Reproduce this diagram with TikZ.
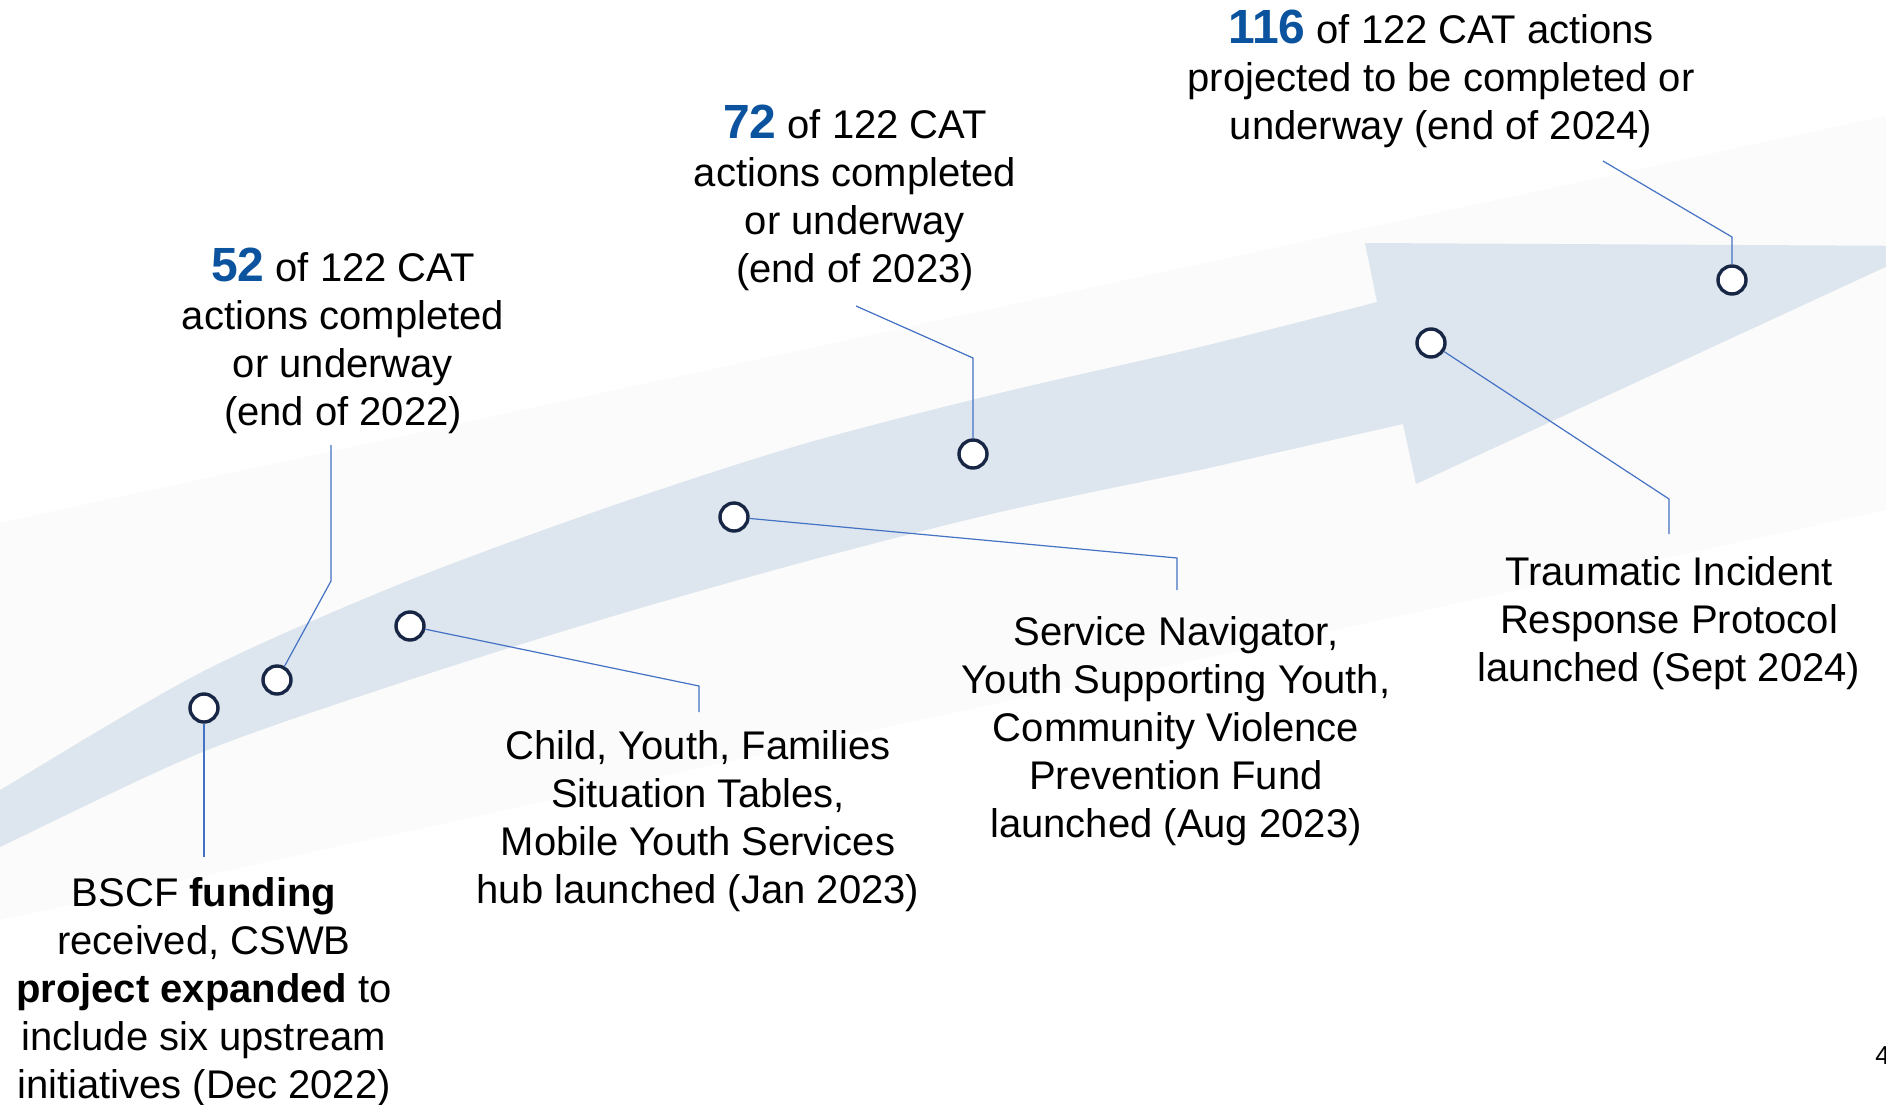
\documentclass[tikz,border=0pt]{standalone}
\usepackage{fontspec}
\setmainfont{Liberation Sans}

\definecolor{bandblue}{RGB}{221,229,238}
\definecolor{bandgrey}{RGB}{251,251,251}
\definecolor{leadblue}{RGB}{68,114,196}
\definecolor{ringnavy}{RGB}{24,38,70}
\definecolor{numblue}{RGB}{11,83,158}
\newcommand{\bignum}[1]{{\fontsize{24}{24}\selectfont\bfseries\color{numblue}#1}}

\begin{document}
\begin{tikzpicture}[x=0.5pt, y=-0.5pt,
  dot/.style={draw=ringnavy, line width=1.7pt, fill=white, circle, minimum size=14pt, inner sep=0pt},
  lbl/.style={anchor=north, align=center, inner sep=0pt, font=\fontsize{20}{24}\selectfont},
  lead/.style={draw=leadblue, line width=0.6pt}]
\useasboundingbox (0,0) rectangle (1886,1104);
\clip (0,0) rectangle (1886,1104);
\fill[white] (0,0) rectangle (1886,1104);
% background arrow
\fill[bandgrey] (-10,525) -- (1900,113) -- (1900,507) -- (-10,922) -- cycle;
\fill[bandblue] plot[smooth] coordinates {(-40,814) (0,790) (200,673) (400,584) (600,510) (800,445) (1000,393) (1200,347) (1377,302)}
  -- (1365,243) -- (1931,246) -- (1416,484) -- (1403,424)
  -- plot[smooth] coordinates {(1200,470) (1000,512) (800,563) (600,620) (400,683) (200,753) (0,847) (-40,866)} -- cycle;
% milestones
\node[dot] (m1) at (204,708) {};
\node[dot] (m2) at (277,680) {};
\node[dot] (m3) at (410,626) {};
\node[dot] (m4) at (734,517) {};
\node[dot] (m5) at (973,454) {};
\node[dot] (m6) at (1431,343) {};
\node[dot] (m7) at (1732,280) {};
\coordinate (e1) at (204,857);
\coordinate (b2) at (331,581); \coordinate (e2) at (331,445);
\coordinate (b3) at (699,686); \coordinate (e3) at (699,712);
\coordinate (b4) at (1177,558); \coordinate (e4) at (1177,590);
\coordinate (b5) at (973,358); \coordinate (e5) at (856,306);
\coordinate (b6) at (1669,499); \coordinate (e6) at (1669,534);
\coordinate (b7) at (1732,237); \coordinate (e7) at (1603,161);
% labels
\node[lbl] (t1) at (343,248) {\bignum{52} of 122 CAT\\actions completed\\or underway\\(end of 2022)};
\node[lbl] (t2) at (855,104.5) {\bignum{72} of 122 CAT\\actions completed\\or underway\\(end of 2023)};
\node[lbl] (t3) at (1441,9.5) {\bignum{116} of 122 CAT actions\\projected to be completed or\\underway (end of 2024)};
\node[lbl] (t4) at (204,877) {BSCF \textbf{funding}\\received, CSWB\\\textbf{project expanded} to\\include six upstream\\initiatives (Dec 2022)};
\node[lbl] (t5) at (698,730) {Child, Youth, Families\\Situation Tables,\\Mobile Youth Services\\hub launched (Jan 2023)};
\node[lbl] (t6) at (1176,616) {Service Navigator,\\Youth Supporting Youth,\\Community Violence\\Prevention Fund\\launched (Aug 2023)};
\node[lbl] (t7) at (1669,556) {Traumatic Incident\\Response Protocol\\launched (Sept 2024)};
\node[anchor=base west, inner sep=0pt, font=\fontsize{13}{15}\selectfont] (pg) at (1875,1064) {4};
% leaders
\draw[lead] (m1) -- (e1);
\draw[lead] (m2) -- (b2) -- (e2);
\draw[lead] (m3) -- (b3) -- (e3);
\draw[lead] (m4) -- (b4) -- (e4);
\draw[lead] (m5) -- (b5) -- (e5);
\draw[lead] (m6) -- (b6) -- (e6);
\draw[lead] (m7) -- (b7) -- (e7);
\end{tikzpicture}
\end{document}
